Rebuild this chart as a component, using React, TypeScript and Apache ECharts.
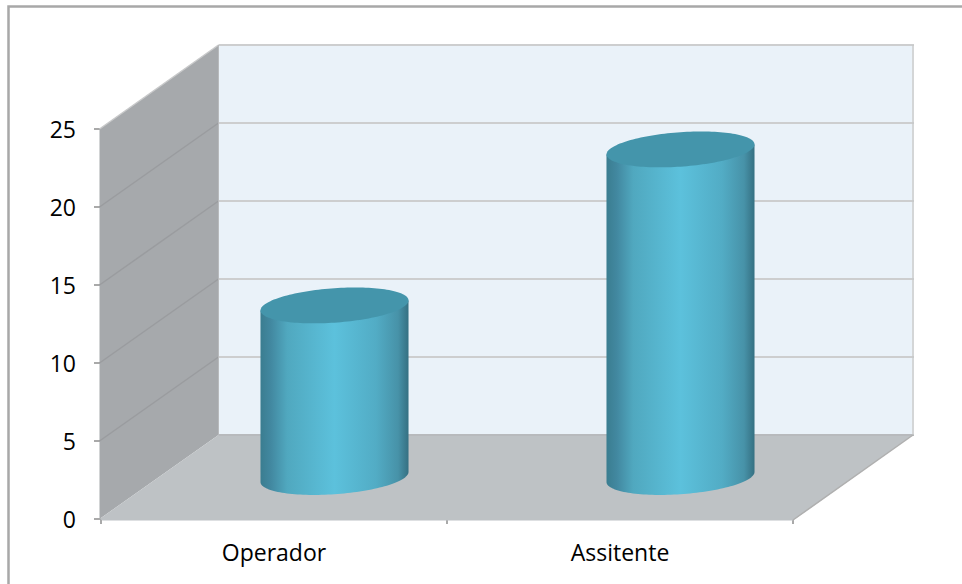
import React, { useEffect, useRef } from "react";
import * as echarts from "echarts";

const categories = ["Operador", "Assitente"];
const values = [11, 21];
const valueTicks = [0, 5, 10, 15, 20, 25];

const depthX = 119;
const depthY = -84;
const barDepth = 0.5;
const ellipseA = 74.2;
const ellipseB = 17.2;
const ellipseTilt = (-4.1 * Math.PI) / 180;

// point on the tilted ellipse seen on top of a cylinder, for parameter t
function ellipsePoint(cx: number, cy: number, t: number): number[] {
  const c = Math.cos(t) * ellipseA;
  const s = Math.sin(t) * ellipseB;
  return [
    cx + c * Math.cos(ellipseTilt) - s * Math.sin(ellipseTilt),
    cy + c * Math.sin(ellipseTilt) + s * Math.cos(ellipseTilt),
  ];
}

// parameter of the right-most point of the ellipse
const rightT = Math.atan2(-ellipseB * Math.sin(ellipseTilt), ellipseA * Math.cos(ellipseTilt));

export default function App() {
  const ref = useRef<HTMLDivElement>(null);
  useEffect(() => {
    const chart = echarts.init(ref.current!, undefined, { renderer: "svg" });
    const font = "Open Sans";
    chart.setOption({
      animation: false,
      backgroundColor: "#ffffff",
      grid: { left: 101, right: 169, top: 129, bottom: 65, containLabel: false },
      graphic: [
        {
          type: "rect",
          z: -10,
          silent: true,
          shape: { x: 8.5, y: 6.5, width: 960, height: 590 },
          style: { fill: "#ffffff", stroke: "#a8a8a8", lineWidth: 2.5 },
        },
      ],
      xAxis: {
        type: "category",
        data: categories,
        offset: 2,
        axisLine: { show: true, lineStyle: { color: "#b2b2b2", width: 2 } },
        axisTick: { show: true, length: 5, lineStyle: { color: "#8c8c8c", width: 1.5 } },
        axisLabel: { color: "#000000", fontFamily: font, fontSize: 23, margin: 19 },
        splitLine: { show: false },
      },
      yAxis: {
        type: "value",
        min: 0,
        max: 25,
        interval: 5,
        axisLine: { show: false },
        axisTick: { show: true, length: 7, lineStyle: { color: "#8c8c8c", width: 1.5 } },
        axisLabel: { color: "#000000", fontFamily: font, fontSize: 23, margin: 25 },
        splitLine: { show: false },
      },
      series: [
        {
          type: "custom",
          coordinateSystem: "cartesian2d",
          clip: false,
          silent: true,
          z: 1,
          data: [[0, 0]],
          renderItem: (params: any, api: any) => {
            const cs = params.coordSys;
            const xl = cs.x - 1.5;
            const xr = cs.x + cs.width;
            const y0 = api.coord([0, 0])[1];
            const yMax = api.coord([0, 25])[1];
            const children: any[] = [
              {
                type: "rect",
                shape: { x: xl + depthX, y: yMax + depthY, width: xr - xl, height: y0 - yMax },
                style: { fill: "#eaf2f9" },
              },
              {
                type: "polygon",
                shape: {
                  points: [
                    [xl, yMax],
                    [xl + depthX, yMax + depthY],
                    [xl + depthX, y0 + depthY],
                    [xl, y0],
                  ],
                },
                style: { fill: "#a6a9ac" },
              },
              {
                type: "polygon",
                shape: {
                  points: [
                    [xl, y0],
                    [xl + depthX, y0 + depthY],
                    [xr + depthX + 1, y0 + depthY],
                    [xr, y0 + 1.5],
                    [xl + 3, y0 + 1.5],
                  ],
                },
                style: { fill: "#bec2c5" },
              },
            ];
            valueTicks.forEach((t) => {
              const y = api.coord([0, t])[1];
              if (t > 0) {
                children.push({
                  type: "line",
                  shape: { x1: xl, y1: y, x2: xl + depthX, y2: y + depthY },
                  style: { stroke: t === 25 ? "#c8c9ca" : "#9a9c9f", lineWidth: 1.5 },
                });
              }
              children.push({
                type: "line",
                shape: { x1: xl + depthX, y1: y + depthY, x2: xr + depthX + 2, y2: y + depthY },
                style: { stroke: t === 0 ? "#b8babd" : "#cdcecf", lineWidth: 2 },
              });
            });
            children.push(
              {
                type: "line",
                shape: { x1: xr + depthX + 1, y1: yMax + depthY, x2: xr + depthX + 1, y2: y0 + depthY },
                style: { stroke: "#c6c8ca", lineWidth: 1.5 },
              },
              {
                type: "line",
                shape: { x1: xr, y1: y0 + 1, x2: xr + depthX + 1, y2: y0 + depthY },
                style: { stroke: "#b0b0b0", lineWidth: 1.5 },
              },
              {
                type: "line",
                shape: { x1: xl + depthX, y1: yMax + depthY, x2: xl + depthX, y2: y0 + depthY },
                style: { stroke: "#b8babc", lineWidth: 1 },
              }
            );
            return { type: "group", children };
          },
        },
        {
          type: "custom",
          coordinateSystem: "cartesian2d",
          clip: false,
          silent: true,
          z: 2,
          data: values.map((v, i) => [i, v]),
          encode: { x: 0, y: 1 },
          renderItem: (_params: any, api: any) => {
            const base = api.coord([api.value(0), 0]);
            const top = api.coord([api.value(0), api.value(1)]);
            const cx = base[0] + depthX * barDepth + 1;
            const by = base[1] + depthY * barDepth;
            const ty = top[1] + depthY * barDepth;
            const steps = 72;
            const lowerArc: number[][] = [];
            const capPoints: number[][] = [];
            for (let i = 0; i <= steps; i++) {
              const t = rightT + (Math.PI * i) / steps;
              lowerArc.push(ellipsePoint(cx, by, t));
            }
            for (let i = 0; i < steps * 2; i++) {
              const t = rightT + (Math.PI * i) / steps;
              capPoints.push(ellipsePoint(cx, ty, t));
            }
            const bodyPoints = [
              ellipsePoint(cx, ty, rightT + Math.PI),
              ellipsePoint(cx, ty, rightT),
              ...lowerArc,
            ];
            return {
              type: "group",
              children: [
                {
                  type: "polygon",
                  shape: { points: bodyPoints },
                  style: {
                    fill: new echarts.graphic.LinearGradient(0, 0, 1, 0, [
                      { offset: 0, color: "#3a7d90" },
                      { offset: 0.07, color: "#4288a0" },
                      { offset: 0.18, color: "#50a8bf" },
                      { offset: 0.5, color: "#5cc1dc" },
                      { offset: 0.78, color: "#52acc5" },
                      { offset: 0.93, color: "#4792a8" },
                      { offset: 1, color: "#357082" },
                    ]),
                  },
                },
                {
                  type: "polygon",
                  shape: { points: capPoints },
                  style: { fill: "#4495ab" },
                },
              ],
            };
          },
        },
      ],
    });
    return () => chart.dispose();
  }, []);
  return (
    <div
      ref={ref}
      style={{ position: "absolute", left: 0, top: 0, width: 962, height: 584, overflow: "hidden" }}
    />
  );
}
